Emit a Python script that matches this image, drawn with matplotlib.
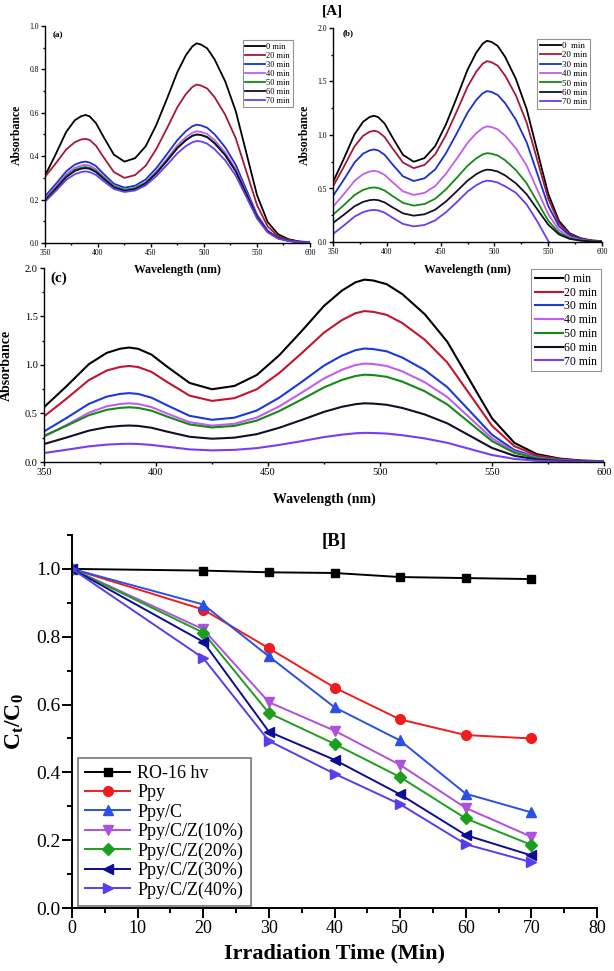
import numpy as np
import matplotlib
matplotlib.use('Agg')
import matplotlib.pyplot as plt
from matplotlib.ticker import MultipleLocator

plt.rcParams['font.family'] = ['Liberation Serif', 'DejaVu Serif']
plt.rcParams['mathtext.fontset'] = 'custom'
plt.rcParams['mathtext.rm'] = 'Liberation Serif'
plt.rcParams['mathtext.bf'] = 'Liberation Serif:bold'
plt.rcParams['mathtext.it'] = 'Liberation Serif:italic'

# ---- [A] UV-vis spectra (absorbance) ----
wavelength = [350, 360, 370, 378, 384, 388, 392, 398, 405, 415, 425, 435, 445, 455, 465, 475,
              483, 489, 493, 497, 503, 510, 520, 530, 540, 550, 560, 570, 580, 590, 600]

labels_ac = ['0 min', '20 min', '30 min', '40 min', '50 min', '60 min', '70 min']
labels_b = ['0  min', '20 min', '30 min', '40 min', '50 min', '60 min', '70 min']

spec_a = [
    [0.31, 0.408, 0.512, 0.565, 0.584, 0.59, 0.584, 0.553, 0.491, 0.407, 0.375, 0.391, 0.446, 0.544, 0.664, 0.789,
     0.866, 0.906, 0.92, 0.915, 0.897, 0.846, 0.745, 0.607, 0.414, 0.221, 0.097, 0.040, 0.017, 0.007, 0.004],
    [0.305, 0.366, 0.431, 0.464, 0.477, 0.48, 0.475, 0.449, 0.397, 0.327, 0.30, 0.313, 0.356, 0.433, 0.528, 0.627,
     0.687, 0.719, 0.73, 0.726, 0.712, 0.672, 0.591, 0.482, 0.329, 0.175, 0.077, 0.031, 0.014, 0.006, 0.003],
    [0.215, 0.271, 0.330, 0.361, 0.372, 0.375, 0.371, 0.355, 0.320, 0.273, 0.255, 0.264, 0.293, 0.345, 0.409, 0.475,
     0.516, 0.538, 0.545, 0.542, 0.531, 0.501, 0.441, 0.360, 0.245, 0.131, 0.057, 0.023, 0.010, 0.004, 0.002],
    [0.205, 0.259, 0.317, 0.346, 0.357, 0.36, 0.357, 0.340, 0.307, 0.262, 0.245, 0.253, 0.280, 0.329, 0.388, 0.450,
     0.488, 0.508, 0.515, 0.512, 0.502, 0.474, 0.417, 0.340, 0.232, 0.124, 0.054, 0.022, 0.010, 0.004, 0.002],
    [0.20, 0.253, 0.308, 0.337, 0.347, 0.35, 0.347, 0.332, 0.302, 0.261, 0.245, 0.253, 0.278, 0.324, 0.380, 0.439,
     0.475, 0.494, 0.50, 0.498, 0.488, 0.46, 0.405, 0.33, 0.225, 0.12, 0.053, 0.022, 0.010, 0.004, 0.002],
    [0.195, 0.248, 0.303, 0.332, 0.342, 0.345, 0.342, 0.327, 0.297, 0.256, 0.24, 0.248, 0.274, 0.321, 0.378, 0.438,
     0.474, 0.494, 0.50, 0.498, 0.488, 0.46, 0.405, 0.33, 0.225, 0.12, 0.053, 0.022, 0.010, 0.004, 0.002],
    [0.19, 0.239, 0.291, 0.317, 0.327, 0.33, 0.327, 0.314, 0.286, 0.249, 0.235, 0.242, 0.266, 0.308, 0.360, 0.414,
     0.447, 0.464, 0.47, 0.468, 0.458, 0.432, 0.381, 0.310, 0.212, 0.113, 0.049, 0.020, 0.009, 0.004, 0.002],
]

spec_b = [
    [0.56, 0.777, 1.006, 1.124, 1.168, 1.18, 1.167, 1.107, 0.982, 0.815, 0.75, 0.784, 0.897, 1.100, 1.349, 1.609,
     1.767, 1.852, 1.88, 1.871, 1.833, 1.730, 1.523, 1.241, 0.846, 0.451, 0.197, 0.081, 0.036, 0.015, 0.008],
    [0.52, 0.702, 0.894, 0.993, 1.030, 1.04, 1.030, 0.981, 0.879, 0.743, 0.69, 0.72, 0.82, 1.00, 1.22, 1.45,
     1.59, 1.665, 1.69, 1.682, 1.648, 1.555, 1.369, 1.115, 0.761, 0.406, 0.177, 0.073, 0.032, 0.014, 0.007],
    [0.43, 0.582, 0.743, 0.826, 0.856, 0.865, 0.856, 0.815, 0.729, 0.614, 0.57, 0.595, 0.679, 0.830, 1.015, 1.208,
     1.326, 1.389, 1.41, 1.403, 1.375, 1.297, 1.142, 0.931, 0.635, 0.338, 0.148, 0.061, 0.027, 0.011, 0.006],
    [0.33, 0.447, 0.571, 0.635, 0.658, 0.665, 0.658, 0.627, 0.562, 0.474, 0.44, 0.459, 0.523, 0.638, 0.779, 0.926,
     1.016, 1.064, 1.08, 1.075, 1.053, 0.994, 0.875, 0.713, 0.486, 0.259, 0.113, 0.046, 0.021, 0.009, 0.004],
    [0.255, 0.344, 0.439, 0.487, 0.505, 0.51, 0.505, 0.481, 0.432, 0.366, 0.34, 0.355, 0.404, 0.492, 0.600, 0.712,
     0.781, 0.818, 0.83, 0.826, 0.809, 0.764, 0.672, 0.548, 0.374, 0.199, 0.087, 0.036, 0.016, 0.007, 0.003],
    [0.178, 0.254, 0.334, 0.375, 0.391, 0.395, 0.391, 0.370, 0.326, 0.268, 0.246, 0.259, 0.302, 0.379, 0.474, 0.573,
     0.633, 0.665, 0.676, 0.673, 0.659, 0.622, 0.548, 0.446, 0.304, 0.162, 0.071, 0.029, 0.013, 0.005, 0.003],
    [0.075, 0.154, 0.237, 0.280, 0.296, 0.30, 0.295, 0.274, 0.229, 0.169, 0.146, 0.159, 0.202, 0.278, 0.372, 0.471,
     0.530, 0.562, 0.573, 0.570, 0.556, 0.52, 0.46, 0.35, 0.19, 0.01, -0.10, -0.10, -0.10, -0.10, -0.10],
]

spec_c = [
    [0.565, 0.780, 1.008, 1.125, 1.168, 1.18, 1.167, 1.107, 0.982, 0.815, 0.75, 0.784, 0.897, 1.100, 1.349, 1.609,
     1.767, 1.852, 1.88, 1.871, 1.833, 1.730, 1.523, 1.241, 0.846, 0.451, 0.197, 0.081, 0.036, 0.015, 0.008],
    [0.47, 0.652, 0.844, 0.943, 0.980, 0.99, 0.979, 0.929, 0.824, 0.684, 0.63, 0.658, 0.750, 0.917, 1.121, 1.334,
     1.463, 1.533, 1.556, 1.548, 1.517, 1.432, 1.260, 1.027, 0.700, 0.373, 0.163, 0.067, 0.030, 0.012, 0.006],
    [0.315, 0.453, 0.599, 0.674, 0.702, 0.71, 0.702, 0.663, 0.584, 0.476, 0.435, 0.457, 0.531, 0.663, 0.825, 0.994,
     1.097, 1.152, 1.17, 1.164, 1.141, 1.076, 0.948, 0.772, 0.527, 0.281, 0.123, 0.050, 0.022, 0.009, 0.005],
    [0.26, 0.381, 0.508, 0.574, 0.598, 0.605, 0.598, 0.566, 0.499, 0.410, 0.375, 0.394, 0.458, 0.573, 0.714, 0.861,
     0.951, 0.999, 1.015, 1.010, 0.990, 0.934, 0.822, 0.670, 0.457, 0.244, 0.107, 0.044, 0.019, 0.008, 0.004],
    [0.27, 0.373, 0.482, 0.538, 0.558, 0.564, 0.558, 0.529, 0.468, 0.387, 0.356, 0.372, 0.427, 0.525, 0.644, 0.769,
     0.846, 0.886, 0.90, 0.896, 0.878, 0.828, 0.729, 0.594, 0.405, 0.216, 0.095, 0.039, 0.017, 0.007, 0.004],
    [0.185, 0.252, 0.323, 0.359, 0.372, 0.376, 0.372, 0.353, 0.313, 0.260, 0.24, 0.251, 0.287, 0.353, 0.433, 0.517,
     0.569, 0.596, 0.605, 0.602, 0.590, 0.557, 0.490, 0.399, 0.272, 0.145, 0.064, 0.026, 0.011, 0.005, 0.002],
    [0.092, 0.126, 0.161, 0.179, 0.186, 0.188, 0.186, 0.176, 0.157, 0.130, 0.12, 0.125, 0.143, 0.176, 0.215, 0.257,
     0.282, 0.296, 0.30, 0.299, 0.293, 0.276, 0.243, 0.198, 0.135, 0.072, 0.032, 0.013, 0.006, 0.002, 0.001],
]

colors_ab = ['#000000', '#a5183a', '#1a30d0', '#c45cf0', '#138a13', '#101028', '#6a3cf2']
colors_c = ['#000000', '#c4142e', '#1a3adc', '#c45cf0', '#138a13', '#101028', '#7a3cf5']

# ---- [B] photodegradation kinetics ----
time_min = [0, 20, 30, 40, 50, 60, 70]
samples = ['RO-16 hv', 'Ppy', 'Ppy/C', 'Ppy/C/Z(10%)', 'Ppy/C/Z(20%)', 'Ppy/C/Z(30%)', 'Ppy/C/Z(40%)']
ro16 = [1.0, 0.995, 0.99, 0.988, 0.976, 0.973, 0.97]
ppy = [1.0, 0.88, 0.766, 0.65, 0.556, 0.51, 0.50]
ppy_c = [1.0, 0.895, 0.742, 0.592, 0.494, 0.337, 0.282]
ppy_cz10 = [1.0, 0.822, 0.607, 0.523, 0.422, 0.295, 0.21]
ppy_cz20 = [1.0, 0.812, 0.575, 0.484, 0.386, 0.264, 0.186]
ppy_cz30 = [1.0, 0.785, 0.52, 0.437, 0.335, 0.215, 0.155]
ppy_cz40 = [1.0, 0.737, 0.493, 0.396, 0.306, 0.188, 0.135]
colors_B = ['#000000', '#f21c1c', '#2a50e6', '#b050dc', '#1e9e1e', '#0c0c96', '#5a3cf0']
markers_B = ['s', 'o', '^', 'v', 'D', '<', '>']

W, H = 614, 971
fig = plt.figure(figsize=(W / 100, H / 100), dpi=100)


def px_axes(left, top, right, bottom):
    ax = fig.add_axes([left / W, 1 - bottom / H, (right - left) / W, (bottom - top) / H])
    ax.set_facecolor('none')
    return ax


def origin_style(ax, lw, tick_len, fs):
    for s in ['top', 'right']:
        ax.spines[s].set_visible(False)
    for s in ['left', 'bottom']:
        ax.spines[s].set_linewidth(lw)
    ax.tick_params(which='major', direction='out', length=tick_len, width=lw, labelsize=fs, pad=1.5)
    ax.tick_params(which='minor', direction='out', length=tick_len * 0.55, width=lw)


def spectra(ax, curves, colors, labels, ymax, ystep, lw, fs_tick, fs_lab, fs_leg, tag, tagsize, tag_xy,
            leg_xy, ylab_x, xlab_y, leg_spacing):
    for vals, col, lab in zip(curves, colors, labels):
        ax.plot(wavelength, vals, color=col, lw=lw, label=lab)
    ax.set_xlim(350, 600)
    ax.set_ylim(0, ymax)
    ax.xaxis.set_major_locator(MultipleLocator(50))
    ax.xaxis.set_minor_locator(MultipleLocator(25))
    ax.yaxis.set_major_locator(MultipleLocator(ystep))
    ax.yaxis.set_minor_locator(MultipleLocator(ystep / 2))
    ax.yaxis.set_major_formatter('{x:.1f}')
    origin_style(ax, 1.0, 3, fs_tick)
    ax.set_ylabel('Absorbance', fontsize=fs_lab, fontweight='bold')
    ax.set_xlabel('Wavelength (nm)', fontsize=fs_lab, fontweight='bold')
    ax.yaxis.set_label_coords(ylab_x, 0.5)
    ax.xaxis.set_label_coords(0.5, xlab_y)
    ax.text(tag_xy[0], tag_xy[1], tag, transform=ax.transAxes, fontsize=tagsize, fontweight='bold',
            va='center')
    leg = ax.legend(loc='upper left', bbox_to_anchor=leg_xy, borderaxespad=0, fontsize=fs_leg,
                    frameon=True, fancybox=False, handlelength=2.4, handletextpad=0.1,
                    labelspacing=leg_spacing, borderpad=0.3)
    leg.get_frame().set_edgecolor('#777777')
    leg.get_frame().set_linewidth(0.8)


ax_a = px_axes(45, 26, 310, 243)
spectra(ax_a, spec_a, colors_ab, labels_ac, 1.0, 0.2, 1.3, 5.5, 8.5, 6, '(a)', 6.5, (0.03, 0.958),
        (0.747, 0.935), -0.083, -0.097, 0.12)

ax_b = px_axes(333, 28, 602, 242)
spectra(ax_b, spec_b, colors_ab, labels_b, 2.0, 0.5, 1.3, 5.5, 8.5, 6.5, '(b)', 6.5, (0.037, 0.975),
        (0.758, 0.949), -0.082, -0.103, 0.12)
fig.text(332 / W, 1 - 11 / H, '[A]', fontsize=11, fontweight='bold', ha='center', va='center')

ax_c = px_axes(44, 268, 604, 462)
spectra(ax_c, spec_c, colors_c, labels_ac, 2.0, 0.5, 1.5, 7.5, 10, 8.5, '(c)', 11, (0.011, 0.948),
        (0.870, 0.993), -0.055, -0.155, 0.15)

# ---- [B] ----
axB = px_axes(72, 535, 597, 908)
series = [ro16, ppy, ppy_c, ppy_cz10, ppy_cz20, ppy_cz30, ppy_cz40]
for vals, lab, col, mk in zip(series, samples, colors_B, markers_B):
    ms = 6 if mk in ('s', 'D') else 7
    axB.plot(time_min, vals, color=col, lw=1.4, marker=mk, ms=ms, label=lab)
axB.set_xlim(0, 80)
axB.set_ylim(0, 1.1)
axB.xaxis.set_major_locator(MultipleLocator(10))
axB.xaxis.set_minor_locator(MultipleLocator(5))
axB.yaxis.set_major_locator(MultipleLocator(0.2))
axB.yaxis.set_minor_locator(MultipleLocator(0.1))
axB.yaxis.set_major_formatter('{x:.1f}')
origin_style(axB, 1.4, 7, 14)
axB.tick_params(axis='x', labelsize=13)
axB.set_xlabel('Irradiation Time (Min)', fontsize=16, fontweight='bold')
axB.set_ylabel(r'$\mathbf{C_t/C_0}$', fontsize=17)
axB.xaxis.set_label_coords(0.5, -0.094)
axB.yaxis.set_label_coords(-0.088, 0.5)
axB.text(0.5, 1.08, '[B]', transform=axB.get_yaxis_transform(),
         fontsize=13.5, fontweight='bold', ha='center', va='center')
legB = axB.legend(loc='upper left', bbox_to_anchor=(0.011, 0.402), borderaxespad=0, fontsize=13,
                  frameon=True, fancybox=False, handlelength=2.5, handletextpad=0.4,
                  labelspacing=0.12, borderpad=0.4, numpoints=1)
legB.get_frame().set_edgecolor('#555555')
legB.get_frame().set_linewidth(1.2)

fig.savefig('out.png', dpi=100)
